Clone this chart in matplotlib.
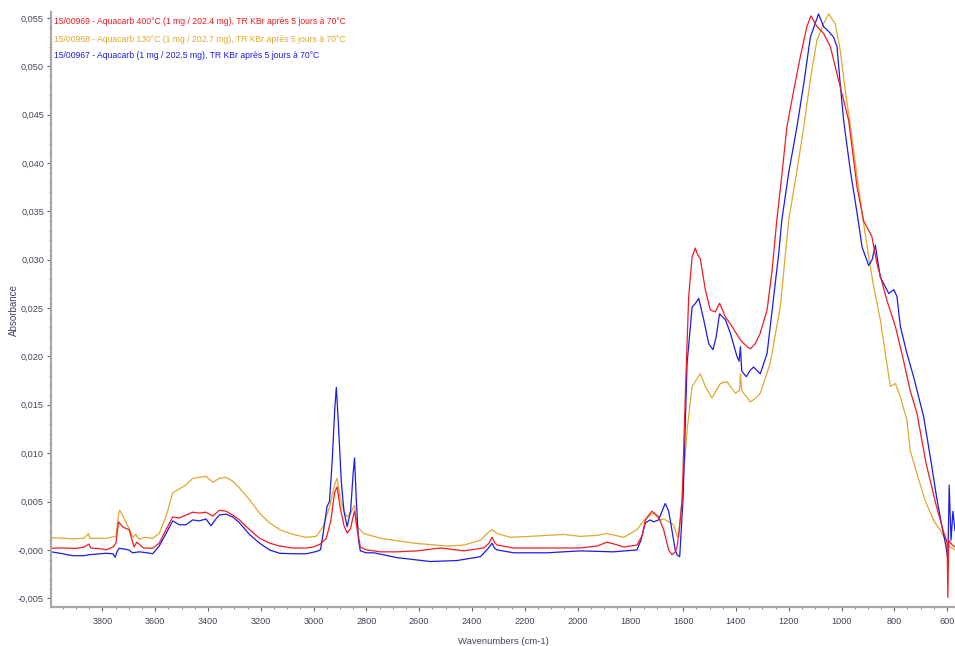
import matplotlib
matplotlib.use("Agg")
import matplotlib.pyplot as plt
from matplotlib.ticker import MultipleLocator, FixedLocator, FixedFormatter

# ---- spectra: wavenumber (cm-1) / absorbance ----
wn_red = [4000, 3950, 3900, 3870, 3851, 3845, 3800, 3787, 3760, 3749, 3739, 3730, 3724, 3710,
          3699, 3690, 3680, 3670, 3661, 3645, 3610, 3585, 3559, 3534, 3509, 3484, 3458, 3433,
          3408, 3382, 3357, 3332, 3306, 3281, 3243, 3205, 3167, 3129, 3078, 3028, 3001, 2975,
          2952, 2935, 2920, 2911, 2900, 2885, 2873, 2860, 2850, 2845, 2835, 2823, 2800, 2772,
          2747, 2684, 2608, 2520, 2431, 2356, 2335, 2324, 2315, 2305, 2242, 2116, 1990, 1926,
          1889, 1860, 1825, 1775, 1755, 1743, 1730, 1718, 1705, 1693, 1674, 1655, 1642, 1630,
          1623, 1615, 1604, 1592, 1579, 1566, 1554, 1545, 1535, 1516, 1497, 1478, 1462, 1440,
          1415, 1383, 1358, 1345, 1327, 1308, 1282, 1263, 1245, 1225, 1207, 1181, 1156, 1131,
          1116, 1093, 1068, 1042, 1017, 992, 973, 941, 916, 885, 866, 828, 796, 771, 740, 714,
          680, 645, 615, 600, 597, 594, 580, 570]
abs_red = [0.00017, 0.0002, 0.00015, 0.0003, 0.0006, 0.0002, 0.0001, 0.0, 0.0003, 0.0007, 0.0029,
           0.0026, 0.0024, 0.0022, 0.0021, 0.0012, 0.0003, 0.0008, 0.0006, 0.0002, 0.00017, 0.0007,
           0.0021, 0.0034, 0.0033, 0.0036, 0.0039, 0.0038, 0.0039, 0.0035, 0.0041, 0.0040, 0.0036,
           0.0031, 0.0021, 0.0012, 0.0007, 0.0004, 0.0002, 0.0002, 0.0003, 0.0006, 0.0012, 0.0030,
           0.0060, 0.0065, 0.0045, 0.0025, 0.00175, 0.0022, 0.0035, 0.0040, 0.0021, 0.0003, 0.0,
           -0.0001, -0.0002, -0.0002, -0.0001, 0.0002, -0.0001, 0.0002, 0.0007, 0.0013, 0.0008,
           0.0005, 0.0002, 0.0002, 0.0002, 0.0004, 0.0008, 0.0006, 0.0003, 0.0005, 0.0015, 0.0031,
           0.0036, 0.0040, 0.0037, 0.0034, 0.0021, 0.0, -0.0005, -0.0002, 0.0003, 0.0020, 0.0050,
           0.0158, 0.0262, 0.0303, 0.0312, 0.0305, 0.0301, 0.0269, 0.0248, 0.0246, 0.0255, 0.0241,
           0.0231, 0.0217, 0.0210, 0.0208, 0.0213, 0.0224, 0.0248, 0.0289, 0.0341, 0.0390, 0.0437,
           0.0475, 0.0510, 0.0541, 0.0552, 0.0541, 0.0534, 0.0520, 0.0492, 0.0465, 0.0444, 0.0375,
           0.0340, 0.0324, 0.0296, 0.0258, 0.0231, 0.0203, 0.0165, 0.0141, 0.0090, 0.0050, 0.0020,
           0.0008, -0.0049, 0.0010, 0.0005, 0.0003]

wn_blue = [4000, 3950, 3914, 3870, 3851, 3787, 3760, 3752, 3745, 3737, 3720, 3700, 3686, 3661,
           3630, 3610, 3585, 3559, 3534, 3509, 3484, 3458, 3433, 3408, 3389, 3370, 3357, 3332,
           3306, 3281, 3243, 3205, 3167, 3129, 3078, 3028, 2990, 2974, 2964, 2949, 2940, 2930,
           2920, 2914, 2908, 2895, 2885, 2873, 2860, 2850, 2845, 2838, 2830, 2823, 2800, 2772,
           2684, 2558, 2457, 2368, 2337, 2324, 2315, 2305, 2242, 2116, 1990, 1863, 1775, 1760,
           1743, 1725, 1712, 1693, 1680, 1668, 1655, 1649, 1630, 1623, 1613, 1600, 1585, 1566,
           1553, 1541, 1522, 1503, 1487, 1475, 1462, 1440, 1421, 1396, 1388, 1383, 1378, 1361,
           1345, 1333, 1308, 1282, 1257, 1238, 1226, 1200, 1169, 1143, 1118, 1087, 1068, 1049,
           1030, 1017, 1005, 992, 967, 941, 922, 897, 884, 872, 853, 821, 802, 790, 777, 752,
           727, 689, 660, 640, 620, 605, 597, 592, 585, 578, 570]
abs_blue = [-0.00017, -0.0004, -0.0006, -0.0006, -0.0005, -0.00035, -0.0004, -0.00076, -0.0002,
            0.00017, 0.0001, 0.0, -0.0003, -0.0002, -0.0003, -0.0004, 0.0004, 0.0017, 0.0030,
            0.0026, 0.0026, 0.0031, 0.0030, 0.0032, 0.0025, 0.0032, 0.0036, 0.0037, 0.0034, 0.0028,
            0.0016, 0.0007, 0.0, -0.00035, -0.0004, -0.0004, -0.00017, 0.0, 0.0017, 0.0045, 0.0050,
            0.0090, 0.0145, 0.0168, 0.0140, 0.0070, 0.0040, 0.0024, 0.0040, 0.0080, 0.0095, 0.0050,
            0.0010, -0.0001, -0.0003, -0.0003, -0.0008, -0.0012, -0.0011, -0.0007, 0.0002, 0.0007,
            0.0002, 0.0, -0.0003, -0.0003, -0.0001, -0.0002, 0.0, 0.0010, 0.0028, 0.0031, 0.0029,
            0.0031, 0.0040, 0.0048, 0.0040, 0.0031, 0.0, -0.0005, -0.0007, 0.0055, 0.0193, 0.0251,
            0.0255, 0.0260, 0.0238, 0.0213, 0.0207, 0.0220, 0.0244, 0.0238, 0.0224, 0.0200, 0.0195,
            0.0210, 0.0185, 0.0179, 0.0186, 0.0189, 0.0182, 0.0203, 0.0262, 0.0306, 0.0341, 0.0390,
            0.0437, 0.0482, 0.0530, 0.0554, 0.0541, 0.0536, 0.0530, 0.0520, 0.0482, 0.0444, 0.0393,
            0.0348, 0.0313, 0.0294, 0.0300, 0.0315, 0.0282, 0.0265, 0.0269, 0.0262, 0.0231, 0.0203,
            0.0179, 0.0138, 0.0090, 0.0055, 0.0025, 0.0005, -0.0010, 0.0067, 0.0010, 0.0040, 0.0020]

wn_gold = [4000, 3950, 3914, 3870, 3853, 3848, 3787, 3749, 3740, 3735, 3724, 3710, 3699, 3685,
           3675, 3661, 3640, 3610, 3585, 3559, 3534, 3509, 3484, 3458, 3433, 3408, 3382, 3357,
           3332, 3306, 3281, 3243, 3205, 3167, 3129, 3078, 3028, 2990, 2964, 2939, 2920, 2911,
           2900, 2885, 2873, 2860, 2845, 2835, 2810, 2747, 2621, 2495, 2431, 2368, 2343, 2324,
           2305, 2255, 2179, 2053, 1990, 1926, 1889, 1825, 1775, 1750, 1737, 1724, 1712, 1686,
           1674, 1648, 1636, 1623, 1617, 1604, 1585, 1566, 1535, 1516, 1491, 1459, 1434, 1402,
           1386, 1383, 1378, 1371, 1345, 1320, 1308, 1270, 1232, 1200, 1170, 1143, 1118, 1093,
           1068, 1049, 1024, 1005, 986, 967, 941, 922, 897, 878, 853, 815, 796, 777, 752, 740,
           710, 682, 650, 625, 600, 590, 570]
abs_gold = [0.00128, 0.0012, 0.00114, 0.0012, 0.0017, 0.0012, 0.0012, 0.0014, 0.0035, 0.0041,
            0.0036, 0.0028, 0.0022, 0.0013, 0.0016, 0.0011, 0.0013, 0.0012, 0.0017, 0.00345,
            0.0059, 0.0063, 0.0067, 0.0074, 0.0075, 0.0076, 0.0070, 0.0074, 0.0075, 0.0071,
            0.0064, 0.0052, 0.0038, 0.0028, 0.0021, 0.0016, 0.0013, 0.0014, 0.0024, 0.0045,
            0.0068, 0.0074, 0.0055, 0.0040, 0.0034, 0.0038, 0.0046, 0.0024, 0.0017, 0.0012,
            0.0007, 0.0004, 0.0005, 0.0010, 0.0017, 0.0021, 0.0017, 0.0013, 0.0014, 0.0016,
            0.0014, 0.0015, 0.0017, 0.0013, 0.0021, 0.0030, 0.0033, 0.0036, 0.0038, 0.0031,
            0.0032, 0.0028, 0.0026, 0.0014, 0.0014, 0.0055, 0.0124, 0.0169, 0.0182, 0.0169,
            0.0157, 0.0172, 0.0174, 0.0162, 0.0165, 0.0182, 0.0165, 0.0162, 0.0153, 0.0158,
            0.0162, 0.0193, 0.0251, 0.0341, 0.0390, 0.0437, 0.0486, 0.0527, 0.0544, 0.0554,
            0.0544, 0.0517, 0.0475, 0.0440, 0.0386, 0.0348, 0.0303, 0.0272, 0.0238, 0.0169,
            0.0172, 0.0158, 0.0134, 0.0103, 0.0075, 0.0050, 0.0030, 0.0020, 0.0008, 0.0003, 0.0]

labels = ["15/00969 - Aquacarb 400°C (1 mg / 202.4 mg), TR KBr après 5 jours à 70°C",
          "15/00968 - Aquacarb 130°C (1 mg / 202.7 mg), TR KBr après 5 jours à 70°C",
          "15/00967 - Aquacarb (1 mg / 202.5 mg), TR KBr après 5 jours à 70°C"]

x_ticks = [3800, 3600, 3400, 3200, 3000, 2800, 2600, 2400, 2200, 2000, 1800, 1600, 1400, 1200, 1000, 800, 600]
y_ticks = [-0.005, 0.0, 0.005, 0.010, 0.015, 0.020, 0.025, 0.030, 0.035, 0.040, 0.045, 0.050, 0.055]
y_tick_labels = ["-0,005", "-0,000", "0,005", "0,010", "0,015", "0,020", "0,025", "0,030",
                 "0,035", "0,040", "0,045", "0,050", "0,055"]

RED = "#f01c24"
GOLD = "#e0a82e"
BLUE = "#1c1ce6"
TXT = "#44445a"
FONT = ["Liberation Sans Narrow", "Liberation Sans", "DejaVu Sans"]

fig = plt.figure(figsize=(9.55, 6.46), dpi=100)
ax = fig.add_axes([0.0534, 0.0604, 0.9466, 0.921])

ax.plot(wn_gold, abs_gold, color=GOLD, lw=0.9)
ax.plot(wn_blue, abs_blue, color=BLUE, lw=0.9)
ax.plot(wn_red, abs_red, color=RED, lw=0.9)

ax.set_xlim(3995, 570)
ax.set_ylim(-0.0059, 0.0556)

for s in ("top", "right"):
    ax.spines[s].set_visible(False)
for s in ("left", "bottom"):
    ax.spines[s].set_color("#a8a8a8")
    ax.spines[s].set_linewidth(1.6)

ax.xaxis.set_major_locator(FixedLocator(x_ticks))
ax.xaxis.set_minor_locator(MultipleLocator(50))
ax.yaxis.set_major_locator(FixedLocator(y_ticks))
ax.yaxis.set_major_formatter(FixedFormatter(y_tick_labels))
ax.yaxis.set_minor_locator(MultipleLocator(0.001))

ax.tick_params(which="major", direction="out", length=3, width=0.8, color="#606070",
               labelcolor=TXT, labelsize=6.6, pad=2)
ax.tick_params(which="minor", direction="out", length=1.5, width=0.6, color="#707080")
for lab in ax.get_xticklabels() + ax.get_yticklabels():
    lab.set_family(FONT)
ax.tick_params(axis="x", pad=4)

ax.set_xlabel("Wavenumbers (cm-1)", family=FONT, fontsize=6.8, color=TXT, labelpad=8)
fig.text(0.0147, 0.52, "Absorbance", rotation=90, family=FONT, fontsize=7, color=TXT,
         ha="center", va="center")

for lab, col, ypix in zip(labels, [RED, GOLD, BLUE], [22, 39, 55]):
    fig.text(54 / 955, 1 - ypix / 646, lab, color=col, family=FONT, fontsize=6.2,
             ha="left", va="center")

fig.savefig("out.png", dpi=100, facecolor="white")
